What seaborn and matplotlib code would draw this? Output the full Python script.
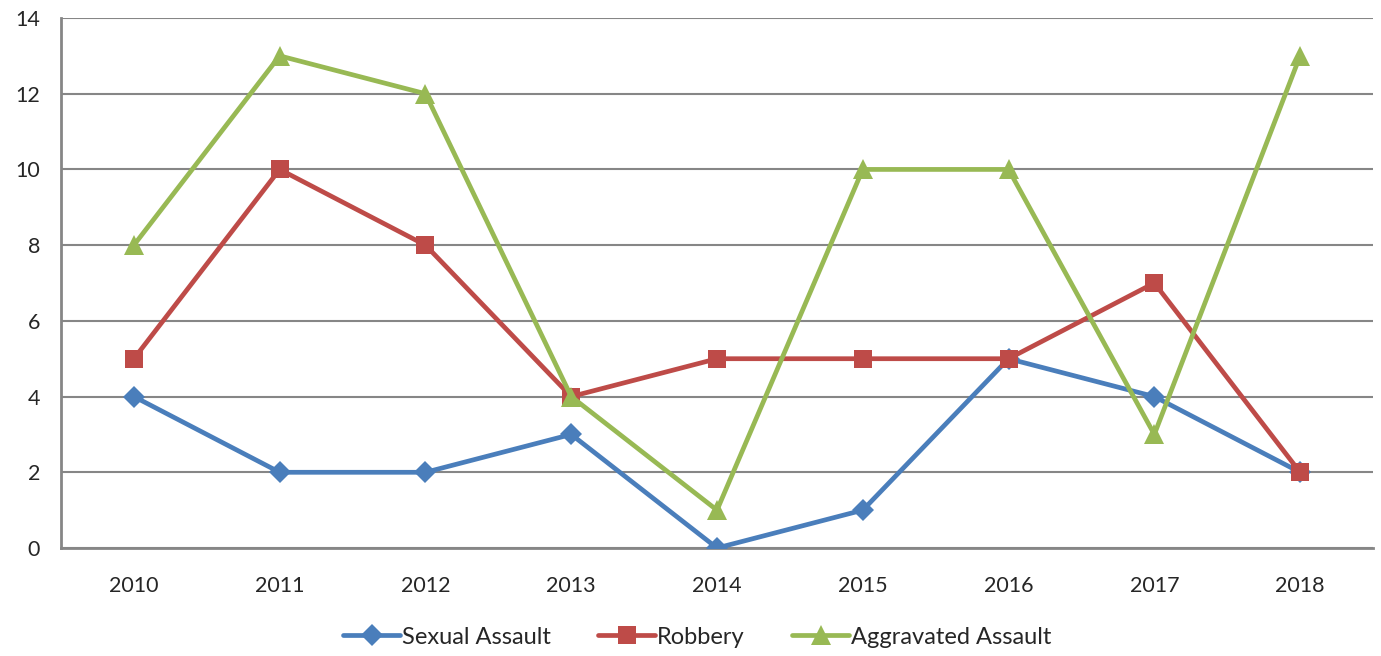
import matplotlib
matplotlib.use("Agg")
import matplotlib.pyplot as plt
import seaborn as sns
import pandas as pd
import numpy as np

years = ["2010", "2011", "2012", "2013", "2014", "2015", "2016", "2017", "2018"]
sexual_assault = [4, 2, 2, 3, 0, 1, 5, 4, 2]
robbery = [5, 10, 8, 4, 5, 5, 5, 7, 2]
aggravated_assault = [8, 13, 12, 4, 1, 10, 10, 3, 13]
series_names = ["Sexual Assault", "Robbery", "Aggravated Assault"]
colors = ["#4A7EBB", "#BE4B48", "#98B954"]
markers = ["D", "s", "^"]

sns.set_style("white")
plt.rcParams['font.family'] = ['Lato', 'DejaVu Sans']

rows = []
for name, vals in zip(series_names, [sexual_assault, robbery, aggravated_assault]):
    for i, v in enumerate(vals):
        rows.append({"pos": i, "value": v, "series": name})
df = pd.DataFrame(rows)

fig = plt.figure(figsize=(13.81, 6.56), dpi=100)
ax = fig.add_axes([61/1381, 1-548/656, (1373-61)/1381, (548-18)/656])

sns.lineplot(data=df, x="pos", y="value", hue="series", style="series",
             palette=dict(zip(series_names, colors)),
             markers=dict(zip(series_names, markers)), dashes=False,
             linewidth=3.4, markersize=13, markeredgewidth=0, ax=ax, legend=False, zorder=3)
msizes = [11, 13, 14]
for line, ms in zip(ax.get_lines(), msizes):
    line.set_markersize(ms)

fs = 15.5
ax.set_xlim(-0.5, len(years) - 0.5)
ax.set_ylim(0, 14)
ax.set_yticks(np.arange(0, 15, 2))
ax.set_yticklabels([str(v) for v in range(0, 15, 2)], fontsize=fs)
ax.set_xticks(np.arange(len(years)))
ax.set_xticklabels(years, fontsize=fs)
ax.set_xticks(np.arange(-0.5, len(years)), minor=True)
ax.tick_params(axis='x', which='major', length=0, pad=20)
ax.tick_params(axis='x', which='minor', length=7, width=1.8, color='#868686', direction='out')
ax.tick_params(axis='y', length=7, width=1.8, color='#868686', direction='out', pad=8)
ax.set_xlabel("")
ax.set_ylabel("")

ax.grid(axis='y', color='#868686', linewidth=1.5)
ax.set_axisbelow(True)
for s in ['top', 'right']:
    ax.spines[s].set_visible(False)
for s in ['left', 'bottom']:
    ax.spines[s].set_color('#868686')
    ax.spines[s].set_linewidth(2)

from matplotlib.lines import Line2D
handles = [Line2D([], [], color=c, marker=m, linewidth=3.4, markersize=ms, markeredgewidth=0)
           for c, m, ms in zip(colors, markers, msizes)]
fig.legend(handles, series_names, loc='center', bbox_to_anchor=(0.505, 1-637/656), ncol=3,
           frameon=False, fontsize=17, handlelength=2.4, columnspacing=2.0, handletextpad=0.1)

fig.savefig("out.png", dpi=100)
